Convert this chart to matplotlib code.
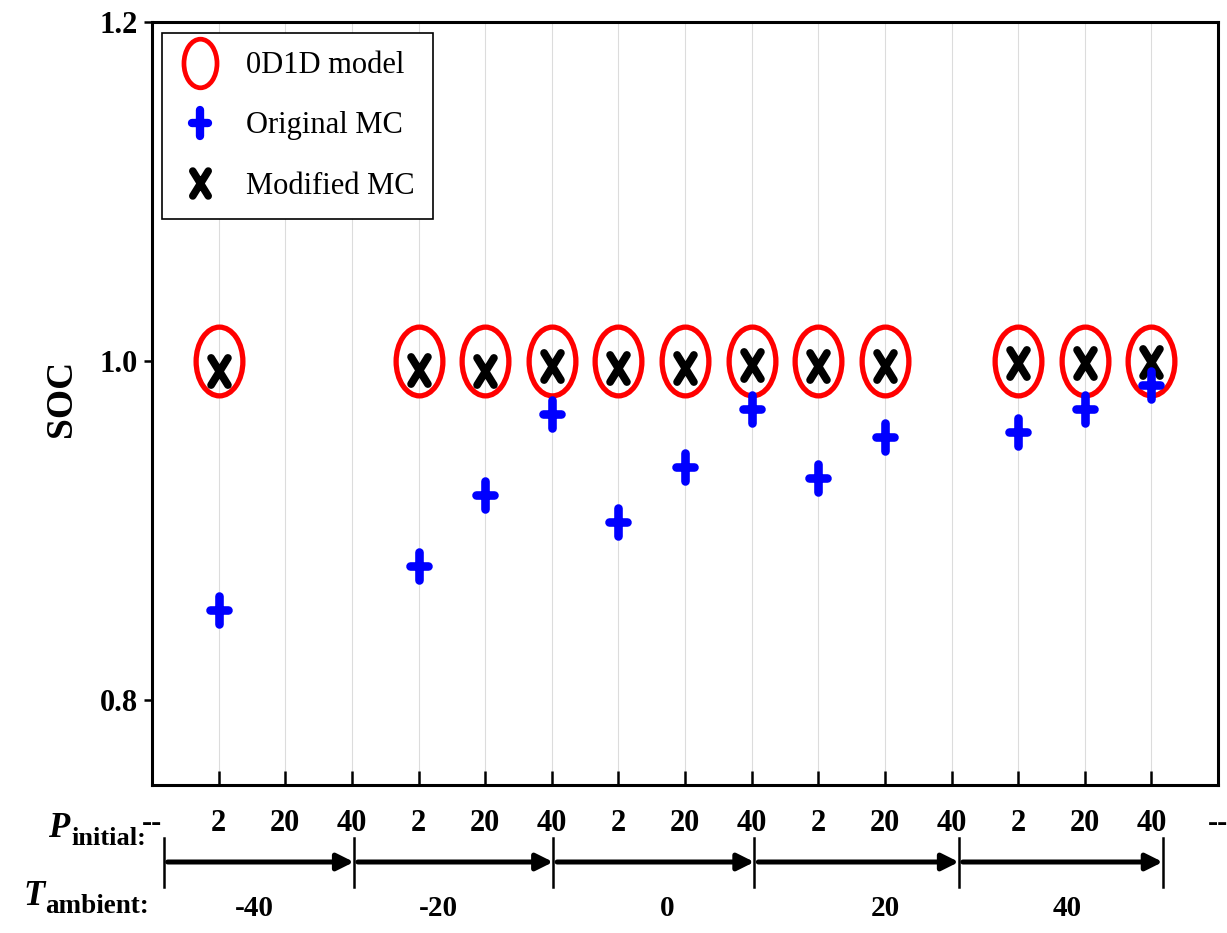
import numpy as np
import matplotlib
matplotlib.use("Agg")
import matplotlib.pyplot as plt
from matplotlib.path import Path
from matplotlib.markers import MarkerStyle
from matplotlib.lines import Line2D
from matplotlib.transforms import blended_transform_factory

plt.rcParams['font.family'] = ['Liberation Serif', 'DejaVu Serif']

nan = np.nan
# ---------------- data ----------------
positions = np.arange(1, 16)
xtick_labels = ['--'] + ['2', '20', '40'] * 5 + ['--']
model_0d1d = [1.0, nan, nan, 1.0, 1.0, 1.0, 1.0, 1.0, 1.0, 1.0, 1.0, nan, 1.0, 1.0, 1.0]
original_mc = [0.853, nan, nan, 0.879, 0.921, 0.969, 0.905, 0.9375, 0.972, 0.931, 0.955, nan,
               0.958, 0.972, 0.986]
modified_mc = [0.994, nan, nan, 0.995, 0.994, 0.997, 0.996, 0.996, 0.998, 0.997, 0.997, nan,
               0.9988, 0.999, 0.9994]
t_ambient_labels = ['-40', '-20', '0', '20', '40']
t_label_x = [1.53, 4.30, 7.73, 11.0, 13.74]
bracket_x = [0.175, 3.03, 6.02, 9.04, 12.11, 15.17]
yticks = [0.8, 1.0, 1.2]

W, H = 1227, 933
fig = plt.figure(figsize=(W / 100, H / 100), dpi=100)
ax = fig.add_axes([152 / W, 1 - 785 / H, 1066 / W, 763 / H])

# ---------------- markers ----------------
circ = Path.unit_circle()
ell_path = Path(circ.vertices * np.array([0.68, 1.0]), circ.codes)
seg_codes = [Path.MOVETO, Path.LINETO, Path.MOVETO, Path.LINETO]
plus_path = Path([(-0.6, 0), (0.6, 0), (0, -1), (0, 1)], seg_codes)
x_path = Path([(-0.62, -1), (0.62, 1), (-0.62, 1), (0.62, -1)], seg_codes)
ell_m = MarkerStyle(ell_path)
plus_m = MarkerStyle(plus_path, capstyle='round')
x_m = MarkerStyle(x_path, capstyle='round')

ax.plot(positions, model_0d1d, ls='none', marker=ell_m, ms=49.5, mfc='none', mec='#ff0000',
        mew=3.8, zorder=3, clip_on=False)
ax.plot(positions, modified_mc, ls='none', marker=x_m, ms=19.5, mfc='none', mec='black',
        mew=5.6, zorder=4, clip_on=False)
ax.plot(positions, original_mc, ls='none', marker=plus_m, ms=20.5, mfc='none', mec='#0000ff',
        mew=6.2, zorder=5, clip_on=False)

ax.set_xlim(0, 16)
ax.set_ylim(0.75, 1.2)
ax.set_xticks(np.arange(0, 17))
ax.set_xticklabels(xtick_labels, fontsize=22, fontweight='bold')
ax.set_yticks(yticks)
ax.set_yticklabels(['%.1f' % v for v in yticks], fontsize=22, fontweight='bold')
ax.tick_params(axis='x', direction='in', length=10, width=1.8, pad=17)
ax.tick_params(axis='y', direction='out', length=6, width=1.8, pad=4)
ax.grid(axis='x', color='#dcdcdc', lw=0.8)
ax.set_axisbelow(True)
for s in ax.spines.values():
    s.set_linewidth(2.2)

fig.text(62 / W, 1 - 398 / H, 'SOC', rotation=90, ha='center', va='center',
         fontsize=27, fontweight='bold')

# ---------------- legend ----------------
handles = [
    Line2D([], [], ls='none', marker=ell_m, ms=35, mfc='none', mec='#ff0000', mew=3.4),
    Line2D([], [], ls='none', marker=plus_m, ms=18.5, mfc='none', mec='#0000ff', mew=6.0),
    Line2D([], [], ls='none', marker=x_m, ms=18, mfc='none', mec='black', mew=5.4),
]
leg = ax.legend(handles, ['0D1D model', 'Original MC', 'Modified MC'],
                loc='upper left', bbox_to_anchor=(10 / 1066, (785 - 33) / 763),
                borderaxespad=0, fontsize=22, fancybox=False, framealpha=1,
                edgecolor='black', borderpad=0.6, handlelength=1.3,
                handletextpad=0.85, labelspacing=1.02)
leg.get_frame().set_linewidth(1.2)

# ---------------- bottom annotations ----------------
fy = lambda ypx: 1 - ypx / H
fig.text(48 / W, fy(837), 'P', fontsize=25, fontweight='bold', style='italic', va='baseline')
fig.text(71 / W, fy(845), 'initial:', fontsize=19, fontweight='bold', va='baseline')
fig.text(23 / W, fy(905), 'T', fontsize=25, fontweight='bold', style='italic', va='baseline')
fig.text(45 / W, fy(913), 'ambient:', fontsize=19.5, fontweight='bold', va='baseline')

btr = blended_transform_factory(ax.transData, fig.transFigure)
for bx in bracket_x:
    ax.add_line(Line2D([bx, bx], [fy(838), fy(887)], color='black', lw=1.8,
                       transform=btr, clip_on=False))
for a, b in zip(bracket_x[:-1], bracket_x[1:]):
    ax.annotate('', xy=(b, fy(862)), xytext=(a + 0.06, fy(862)),
                xycoords=('data', 'figure fraction'), textcoords=('data', 'figure fraction'),
                arrowprops=dict(arrowstyle='-|>', lw=3.6, color='black',
                                mutation_scale=25, shrinkA=0, shrinkB=0),
                annotation_clip=False)
for lx, lab in zip(t_label_x, t_ambient_labels):
    ax.text(lx, fy(916), lab, transform=btr, ha='center', va='baseline',
            fontsize=21, fontweight='bold')

fig.savefig('out.png', dpi=100)
